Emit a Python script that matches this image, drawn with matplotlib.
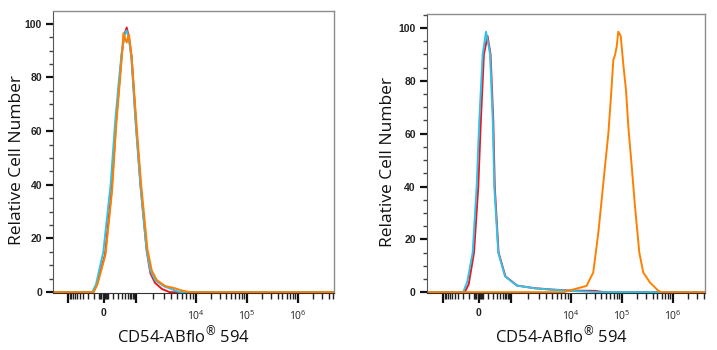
"""
Histogramme CD54-ABflo 594 (Durchflusszytometrie), zwei Panels
mit biexponentieller x-Achse.
"""

import numpy as np
import matplotlib
matplotlib.use('Agg')
import matplotlib.pyplot as plt
from matplotlib.ticker import FixedLocator, FixedFormatter, MultipleLocator

plt.rcParams['font.family'] = ['Open Sans', 'DejaVu Sans']
plt.rcParams['mathtext.fontset'] = 'custom'
plt.rcParams['mathtext.rm'] = 'Open Sans'
plt.rcParams['mathtext.it'] = 'Open Sans'

# ---------------------------
# Daten (Intensität, relative Zellzahl %)
# ---------------------------
left_red_x = [-1e4, -300, -105, -60, 8, 79, 148, 220, 287, 370, 459, 560, 707, 1021, 1227, 1563, 1800, 2148, 2800, 3773, 1e7]
left_red_y = [0, 0, 0, 3, 14, 38, 63, 78, 89, 96, 98.6, 95, 88, 62, 39, 15, 7, 3.5, 1.2, 0, 0]

left_cyan_x = [-1e4, -300, -120, -70, -5, 65, 135, 210, 280, 365, 455, 560, 700, 1000, 1210, 1540, 1800, 2148, 3000, 4200, 5536, 1e7]
left_cyan_y = [0, 0, 0, 3, 15, 40, 64, 79, 89, 95.5, 97.5, 94.5, 87, 63, 40, 16, 8, 4.5, 2.2, 1.0, 0, 0]

left_orange_x = [-1e4, -300, -100, -55, 12, 85, 155, 230, 295, 334, 400, 459, 520, 565, 720, 1040, 1250, 1600, 1900, 2300, 3175, 4500, 6000, 8100, 1e7]
left_orange_y = [0, 0, 0, 3, 14, 38, 63, 78, 89, 96.5, 94.5, 93, 95, 96, 87, 62, 40, 16, 8, 4.5, 2.3, 1.5, 0.6, 0, 0]

right_red_x = [-1e4, -250, -160, -100, -40, -5, 15, 45, 91, 140, 195, 230, 340, 640, 1300, 2600, 5000, 10000, 30000, 45000, 1e7]
right_red_y = [0, 0, 0, 3, 15, 40, 65, 90, 97, 90, 65, 40, 15, 6, 2.5, 1.5, 1.0, 0.6, 0.5, 0, 0]

right_cyan_x = [-1e4, -300, -189, -120, -53, -17, 2, 32, 70, 110, 131, 184, 219, 331, 619, 1277, 2500, 4567, 10000, 17000, 40000, 1e7]
right_cyan_y = [0, 0, 0, 4, 15, 40, 65, 90, 98.6, 93, 90, 65, 40, 15, 6, 2.5, 1.5, 1.0, 0.5, 0.3, 0, 0]

right_orange_x = [-1e4, 7560, 20460, 27630, 34740, 40360, 46890, 54490, 60670, 68290, 73700, 79520, 85200,
                  95200, 107200, 120700, 134300, 156300, 181100, 220300, 263000, 354800, 516400, 598300, 1e7]
right_orange_y = [0, 0, 2.4, 7.5, 22.6, 35, 47.7, 60, 72.6, 88, 89.8, 93, 98.6,
                  97, 86, 76.6, 62.6, 47.7, 32.6, 15, 7.5, 3.7, 0.6, 0, 0]

xlabel = 'CD54-ABflo$^{\\mathrm{®}}$ 594'
ylabel = 'Relative Cell Number'
xtick_vals = [-1e3, 0, 1e3, 1e4, 1e5, 1e6]
xtick_labels = ['', '0', '', '$10^4$', '$10^5$', '$10^6$']

# ---------------------------
# Biexponentielle Skala (Stützstellen)
# ---------------------------
X_ANCH = np.array([-1e8, -1e5, -1e4, -1e3, 0, 1e3, 1e4, 1e5, 1e6, 1e7, 1e8])
P_ANCH = np.array([-5.8, -2.8, -1.8, -0.7, 0, 0.62, 1.8, 2.8, 3.8, 4.8, 5.8])


def g(x):
    x = np.asarray(x, dtype=float)
    return np.sign(x) * np.log10(1 + np.abs(x) / 100)


def ginv(u):
    u = np.asarray(u, dtype=float)
    return np.sign(u) * 100 * (10 ** np.abs(u) - 1)


G_ANCH = g(X_ANCH)


def fwd(x):
    return np.interp(g(x), G_ANCH, P_ANCH)


def inv(p):
    return ginv(np.interp(np.asarray(p, dtype=float), P_ANCH, G_ANCH))


RED = '#f0141e'
CYAN = '#2ec4ea'
ORANGE = '#ff8000'

fig = plt.figure(figsize=(7.17, 3.5), dpi=100)
ax1 = fig.add_axes([0.0739, 0.1629, 0.392, 0.806])
ax2 = fig.add_axes([0.5955, 0.1629, 0.3877, 0.797])

# (Achse, Kurven, x-Bereich in Dekaden, y-Obergrenze, xlabel-Position, ylabel-Position)
panels = [
    (ax1, [(left_red_x, left_red_y, RED), (left_cyan_x, left_cyan_y, CYAN), (left_orange_x, left_orange_y, ORANGE)],
     (-1.0, 4.51), 104.8, 0.465, -0.10),
    (ax2, [(right_red_x, right_red_y, RED), (right_cyan_x, right_cyan_y, CYAN), (right_orange_x, right_orange_y, ORANGE)],
     (-1.02, 4.43), 105.3, 0.485, -0.11),
]

minor_vals = []
for v in [10, 20, 30, 40] + [k * 10 ** n for n in range(2, 7) for k in range(1, 10)]:
    if v not in xtick_vals:
        minor_vals += [v, -v]

for ax, series, plim, ytop, xl_pos, yl_pos in panels:
    ax.set_xscale('function', functions=(fwd, inv))
    for xs, ys, col in series:
        ax.plot(xs, ys, color=col, linewidth=1.4, solid_joinstyle='round')
    ax.set_xlim(inv(plim[0]), inv(plim[1]))
    ax.set_ylim(-0.3, ytop)

    # Achsen-Ticks
    ax.xaxis.set_major_locator(FixedLocator(xtick_vals))
    ax.xaxis.set_major_formatter(FixedFormatter(xtick_labels))
    ax.xaxis.set_minor_locator(FixedLocator(minor_vals))
    ax.set_yticks([0, 20, 40, 60, 80, 100])
    ax.yaxis.set_minor_locator(MultipleLocator(5))
    ax.tick_params(axis='x', which='major', direction='out', length=7, width=1.6, color='#111111',
                   labelsize=7.5, pad=4, labelcolor='#222222')
    ax.tick_params(axis='x', which='minor', direction='out', length=4, width=1.0, color='#222222')
    ax.tick_params(axis='y', which='major', direction='out', length=5, width=1.6, color='#111111',
                   labelsize=7.5, pad=3, labelcolor='#222222')
    ax.tick_params(axis='y', which='minor', direction='out', length=3, width=1.0, color='#444444')
    for lab in ax.get_xticklabels() + ax.get_yticklabels():
        lab.set_fontfamily(['Liberation Sans', 'DejaVu Sans'])
        lab.set_fontweight('bold')

    for side in ['top', 'right']:
        ax.spines[side].set_color('#8c8c8c')
        ax.spines[side].set_linewidth(1.0)
    ax.spines['left'].set_color('#555555')
    ax.spines['bottom'].set_color('#333333')

    ax.set_xlabel(xlabel, fontsize=12, color='#111111')
    ax.xaxis.set_label_coords(xl_pos, -0.112)
    ax.set_ylabel(ylabel, fontsize=12.5, color='#111111')
    ax.yaxis.set_label_coords(yl_pos, 0.47)

fig.savefig('out.png', dpi=100)
